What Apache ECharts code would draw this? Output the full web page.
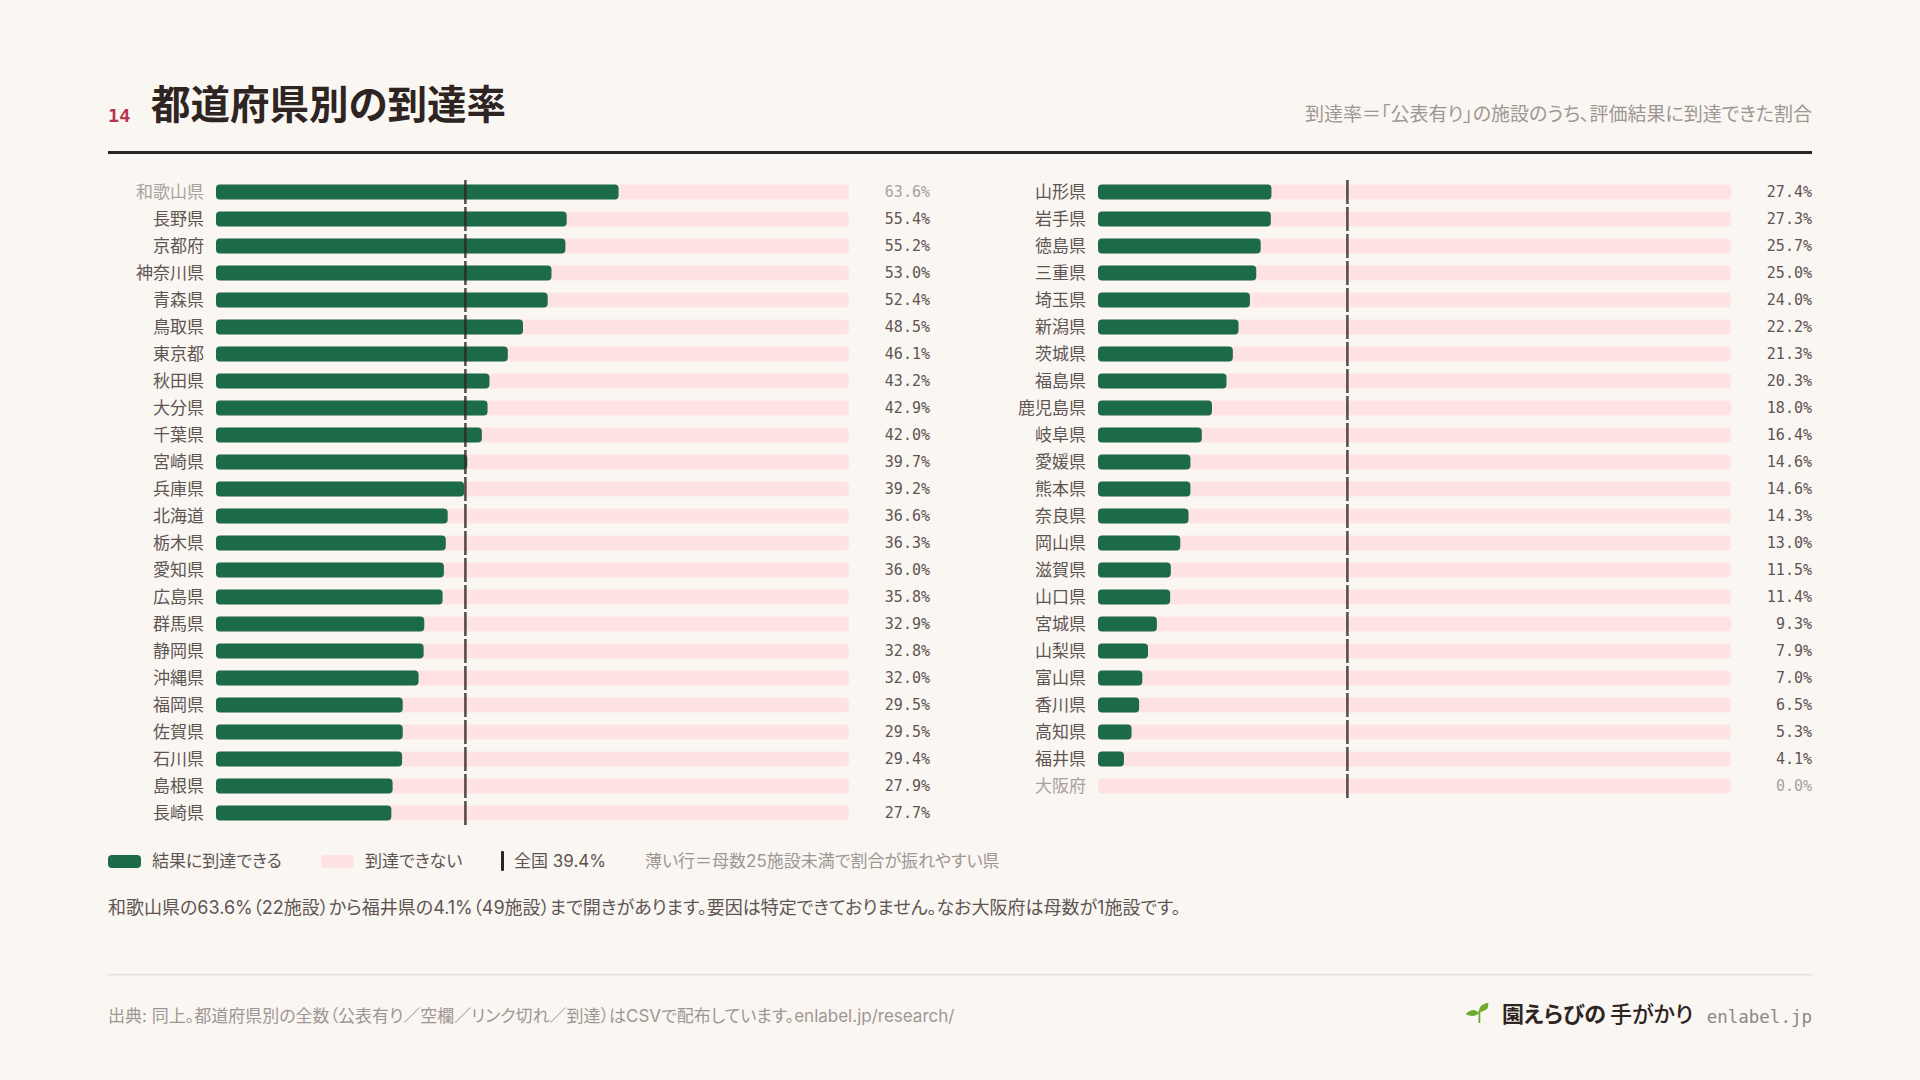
<!DOCTYPE html>
<html lang="ja"><head><meta charset="utf-8">
<style>
html,body{margin:0;padding:0;background:#FAF6F2;}
#c{width:1920px;height:1080px;}
text{font-feature-settings:"palt" !important;}
</style>
<script src="https://cdn.jsdelivr.net/npm/echarts@6/dist/echarts.min.js"></script>
</head><body><div id="c"></div>
<script>
const leftCategories=['和歌山県','長野県','京都府','神奈川県','青森県','鳥取県','東京都','秋田県','大分県','千葉県','宮崎県','兵庫県','北海道','栃木県','愛知県','広島県','群馬県','静岡県','沖縄県','福岡県','佐賀県','石川県','島根県','長崎県'];
const leftValues=[63.6,55.4,55.2,53.0,52.4,48.5,46.1,43.2,42.9,42.0,39.7,39.2,36.6,36.3,36.0,35.8,32.9,32.8,32.0,29.5,29.5,29.4,27.9,27.7];
const rightCategories=['山形県','岩手県','徳島県','三重県','埼玉県','新潟県','茨城県','福島県','鹿児島県','岐阜県','愛媛県','熊本県','奈良県','岡山県','滋賀県','山口県','宮城県','山梨県','富山県','香川県','高知県','福井県','大阪府'];
const rightValues=[27.4,27.3,25.7,25.0,24.0,22.2,21.3,20.3,18.0,16.4,14.6,14.6,14.3,13.0,11.5,11.4,9.3,7.9,7.0,6.5,5.3,4.1,0.0];
const dimmed=['和歌山県','大阪府'];
const nationalRate=39.4;
const fullScale=100;

const GREEN='#1B6A48',TRACK='#FFE3E3',INK='#2E2523',LABEL='#5E5553',DIM='#A9A19E';
const SANS='Inter,"Noto Sans CJK JP",sans-serif',MONO='"DejaVu Sans Mono",monospace';
const ROWS=24;

function panel(idx,cats,vals,left){
  const names=cats.concat(Array(ROWS-cats.length).fill(''));
  const texts=vals.map(v=>v.toFixed(1)+'%').concat(Array(ROWS-vals.length).fill(''));
  const grid={left:left,width:633,top:178.5,height:648};
  const x={type:'value',gridIndex:idx,min:0,max:fullScale,show:false};
  const yL={type:'category',gridIndex:idx,inverse:true,data:names,
    axisLine:{show:false},axisTick:{show:false},splitLine:{show:false},
    axisLabel:{margin:12,fontFamily:SANS,fontSize:17,
      color:(v)=>dimmed.includes(v)?DIM:LABEL}};
  const yR={type:'category',gridIndex:idx,inverse:true,position:'right',data:texts,
    axisLine:{show:false},axisTick:{show:false},splitLine:{show:false},
    axisLabel:{margin:81,align:'right',fontFamily:MONO,fontSize:15,
      color:(v,i)=>dimmed.includes(names[i])?DIM:LABEL}};
  const base=idx*2;
  const series=[
    {type:'bar',xAxisIndex:idx,yAxisIndex:base,barWidth:15,barGap:'-100%',silent:true,z:2,
      itemStyle:{color:TRACK,borderRadius:4},data:cats.map(()=>fullScale)},
    {type:'bar',xAxisIndex:idx,yAxisIndex:base,barWidth:15,barGap:'-100%',silent:true,z:3,
      itemStyle:{color:GREEN,borderRadius:4},data:vals},
    {type:'scatter',xAxisIndex:idx,yAxisIndex:base,symbol:'rect',symbolSize:[2.6,24],silent:true,z:5,
      itemStyle:{color:INK},data:cats.map(c=>[nationalRate,c])}
  ];
  return {grid,x,ys:[yL,yR],series};
}
const L=panel(0,leftCategories,leftValues,216);
const R=panel(1,rightCategories,rightValues,1098);

function t(text,x,y,fontSize,fill,opts={}){
  return {type:'text',silent:true,x,y,style:Object.assign({text,fontFamily:SANS,fontSize,fill,verticalAlign:'middle',align:'left'},opts)};
}
function box(x,y,w,h,fill,r=0){
  return {type:'rect',silent:true,shape:{x,y,width:w,height:h,r},style:{fill}};
}
function leaf(points,fill){
  return {type:'polygon',silent:true,shape:{points,smooth:0.3},style:{fill}};
}
const SPROUT='#6DAA2D';
const gfx=[
  t('14',108,115,18.5,'#B8334E',{fontFamily:MONO,fontWeight:'bold'}),
  t('都道府県別の到達率',151,105,39.5,INK,{fontWeight:'bold'}),
  t('到達率=「公表有り」の施設のうち、評価結果に到達できた割合'.replace('=','＝'),1812,114,19,'#9E9693',{align:'right'}),
  box(108,151,1704,3,INK),
  box(108,855,33,13,GREEN,4),
  t('結果に到達できる',152,860.5,17,LABEL),
  box(321,855,33,13,TRACK,4),
  t('到達できない',365,860.5,17,LABEL),
  box(501,851,3,20,INK,1),
  t('全国 39.4%',514,860.5,17,LABEL),
  t('薄い行＝母数25施設未満で割合が振れやすい県',645,860.5,17,'#9E9693'),
  t('和歌山県の63.6%（22施設）から福井県の4.1%（49施設）まで開きがあります。要因は特定できておりません。なお大阪府は母数が1施設です。',108,907,18,LABEL),
  box(108,974,1704,1.5,'#E4DFDA'),
  t('出典: 同上。都道府県別の全数（公表有り／空欄／リンク切れ／到達）はCSVで配布しています。enlabel.jp/research/',108,1016,17,'#9E9693'),
  box(1478.5,1011,1.8,12,SPROUT),
  leaf([[1479,1012],[1481,1006],[1488,1003],[1487,1009]],SPROUT),
  leaf([[1479,1013],[1473,1010],[1466,1014],[1473,1016]],SPROUT),
  t('園えらびの',1502,1014,22,INK,{fontWeight:'bold'}),
  t('手がかり',1610,1014,22,INK,{fontWeight:500}),
  t('enlabel.jp',1812,1017,17.5,'#8F8785',{fontFamily:MONO,align:'right'})
];

const chart=echarts.init(document.getElementById('c'),null,{renderer:'svg',width:1920,height:1080});
chart.setOption({
  animation:false,
  backgroundColor:'#FAF6F2',
  grid:[L.grid,R.grid],
  xAxis:[L.x,R.x],
  yAxis:[...L.ys,...R.ys],
  series:[...L.series,...R.series],
  graphic:gfx
});
</script></body></html>
